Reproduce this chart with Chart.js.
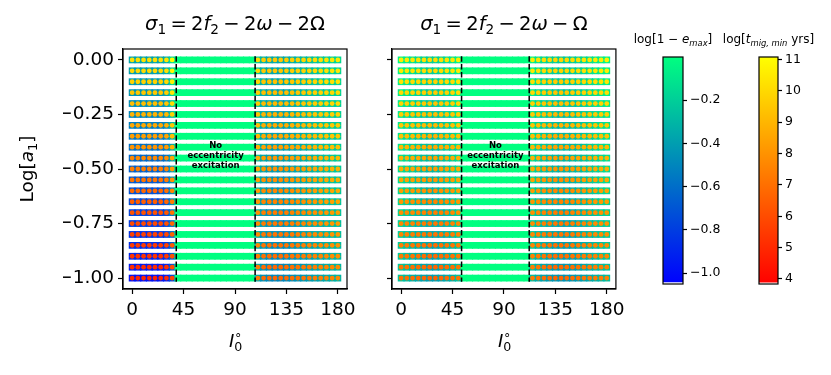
<!DOCTYPE html>
<html><head><meta charset="utf-8">
<script src="https://cdn.jsdelivr.net/npm/chart.js@4.4.0/dist/chart.umd.min.js"></script>
<style>
html,body{margin:0;padding:0;background:#fff;width:831px;height:375px;overflow:hidden;}
.box{position:absolute;top:0;height:375px;}
</style></head><body>
<div class="box" style="left:0;width:370px"><canvas id="c1"></canvas></div>
<div class="box" style="left:370px;width:260px"><canvas id="c2"></canvas></div>
<div class="box" style="left:620px;width:110px"><canvas id="c3"></canvas></div>
<div class="box" style="left:710px;width:121px"><canvas id="c4"></canvas></div>
<script>
// ---------------- DATA ----------------
const ROWS_A = [0.00,-0.05,-0.10,-0.15,-0.20,-0.25,-0.30,-0.35,-0.40,-0.45,-0.50,-0.55,-0.60,-0.65,-0.70,-0.75,-0.80,-0.85,-0.90,-0.95,-1.00];
const INCL = [0,5,10,15,20,25,30,35,40,45,50,55,60,65,70,75,80,85,90,95,100,105,110,115,120,125,130,135,140,145,150,155,160,165,170,175,180];
const X_TICKS = [0,45,90,135,180];
const Y_TICKS = [0,-0.25,-0.5,-0.75,-1.0];
const E_NONE = 0.0;              // log[1-e_max] where no excitation

// Panel 1: sigma1 = 2f2 - 2w - 2Omega
const P1_DASH = [38.6, 107.6];
const P1_LEFT_I = [0,5,10,15,20,25,30,35];
const P1_RIGHT_I = [110,115,120,125,130,135,140,145,150,155,160,165,170,175,180];
const P1_E_LEFT_ROW = [-0.38,-0.40,-0.42,-0.44,-0.47,-0.50,-0.53,-0.56,-0.59,-0.62,-0.65,-0.68,-0.71,-0.74,-0.77,-0.80,-0.83,-0.86,-0.89,-0.93,-0.97];
const P1_E_LEFT_COL = [0,0,0,0,0,0,0.04,0.22];
const P1_T_LEFT_ROW = [10.2,10.0,9.8,9.5,9.2,8.9,8.6,8.3,8.0,7.7,7.4,7.1,6.8,6.5,6.2,5.9,5.7,5.5,5.3,5.1,4.9];
const P1_T_LEFT_COL = [0,0,0,0,0,0,0.2,0.9];
const P1_E_RIGHT_ROW = [-0.28,-0.29,-0.29,-0.30,-0.30,-0.31,-0.31,-0.32,-0.33,-0.33,-0.34,-0.35,-0.35,-0.36,-0.37,-0.38,-0.38,-0.39,-0.40,-0.41,-0.42];
const P1_E_RIGHT_COL = [0.06,-0.04,-0.07,-0.08,-0.08,-0.07,-0.05,-0.03,-0.01,0.01,0.03,0.05,0.07,0.09,0.11];
const P1_T_RIGHT_ROW = [9.8,9.7,9.6,9.4,9.3,9.1,8.9,8.8,8.6,8.4,8.2,8.1,7.9,7.8,7.6,7.5,7.4,7.3,7.2,7.1,7.0];
const P1_T_RIGHT_COL = [0.3,-0.2,-0.3,-0.3,-0.3,-0.2,-0.1,0,0.1,0.2,0.3,0.4,0.5,0.6,0.7];

// Panel 2: sigma1 = 2f2 - 2w - Omega
const P2_DASH = [52.9, 112.1];
const P2_LEFT_I = [0,5,10,15,20,25,30,35,40,45,50];
const P2_RIGHT_I = [115,120,125,130,135,140,145,150,155,160,165,170,175,180];
const P2_E_LEFT_ROW = [-0.12,-0.13,-0.14,-0.15,-0.16,-0.17,-0.18,-0.19,-0.20,-0.21,-0.22,-0.23,-0.24,-0.25,-0.26,-0.27,-0.28,-0.29,-0.30,-0.31,-0.32];
const P2_E_LEFT_COL = [0.08,0.04,0,-0.03,-0.06,-0.08,-0.08,-0.06,-0.03,0,0.06];
const P2_T_LEFT_ROW = [10.3,10.2,10.0,9.8,9.6,9.4,9.2,9.0,8.8,8.6,8.4,8.2,8.0,7.8,7.6,7.4,7.3,7.1,7.0,6.9,6.8];
const P2_T_LEFT_COL = [0.3,0.2,0.1,0,-0.1,-0.2,-0.2,-0.1,0,0.1,0.3];
const P2_E_RIGHT_ROW = [-0.14,-0.15,-0.16,-0.17,-0.18,-0.19,-0.20,-0.21,-0.22,-0.23,-0.24,-0.25,-0.26,-0.27,-0.28,-0.29,-0.30,-0.31,-0.32,-0.34,-0.36];
const P2_E_RIGHT_COL = [0.08,0.02,-0.02,-0.05,-0.07,-0.08,-0.08,-0.07,-0.05,-0.03,0,0.03,0.06,0.09];
const P2_T_RIGHT_ROW = [10.2,10.1,9.9,9.7,9.5,9.3,9.1,8.9,8.7,8.5,8.3,8.1,7.9,7.8,7.6,7.5,7.4,7.3,7.2,7.1,7.0];
const P2_T_RIGHT_COL = [0.3,0.1,-0.1,-0.2,-0.3,-0.3,-0.2,-0.1,0,0.1,0.2,0.3,0.4,0.5];

// colour ranges
const E_RANGE = [-1.05, 0.0];
const T_RANGE = [3.84, 11.08];
const CB1_TICKS = [-0.2,-0.4,-0.6,-0.8,-1.0];
const CB2_TICKS = [4,5,6,7,8,9,10,11];

// ---------------- HELPERS ----------------
const FF = "'DejaVu Sans', sans-serif";
Chart.defaults.font.family = FF;
Chart.defaults.color = '#000';
const clamp = (v)=>Math.max(0,Math.min(1,v));
function winter(v){ const t=clamp((v-E_RANGE[0])/(E_RANGE[1]-E_RANGE[0])); return `rgb(0,${Math.round(255*t)},${Math.round(255*(1-0.5*t))})`; }
function autumn(v){ const t=clamp((v-T_RANGE[0])/(T_RANGE[1]-T_RANGE[0])); return `rgb(255,${Math.round(255*t)},0)`; }
const minus = s => s.replace('-', '\u2212');

function richDraw(ctx, parts, x, y, size, align, rot){
  const meas = parts.map(p=>{
    const s = (p.sub||p.sup)? size*0.7 : size;
    ctx.font = `${p.i?'italic ':''}${p.b?'bold ':''}${s}px ${FF}`;
    const w = ctx.measureText(p.t).width;
    return {s, w, g:(p.g||0)*size};
  });
  let total = 0; meas.forEach((m,k)=>{ if(!parts[k].stack) total += m.w + 2*m.g; });
  ctx.save();
  ctx.translate(x,y); if(rot) ctx.rotate(rot);
  let cx = align==='center' ? -total/2 : 0;
  let lastX = cx;
  parts.forEach((p,k)=>{
    const m = meas[k];
    ctx.font = `${p.i?'italic ':''}${p.b?'bold ':''}${m.s}px ${FF}`;
    ctx.fillStyle='#000'; ctx.textBaseline='alphabetic'; ctx.textAlign='left';
    const dy = p.sub? size*0.22 : (p.sup? -size*0.42 : 0);
    if(p.stack){ ctx.fillText(p.t, lastX, dy); return; }
    cx += m.g; lastX = cx;
    ctx.fillText(p.t, cx, dy);
    cx += m.w + m.g;
  });
  ctx.restore();
}

function buildPanel(leftI, rightI, eL, eLc, tL, tLc, eR, eRc, tR, tRc){
  const sq=[], sqC=[], dot=[], dotC=[];
  ROWS_A.forEach((a,r)=>{
    INCL.forEach(inc=>{
      let e = E_NONE;
      const li = leftI.indexOf(inc), ri = rightI.indexOf(inc);
      if(li>=0){ e = eL[r]+eLc[li]; dot.push({x:inc,y:a}); dotC.push(autumn(tL[r]+tLc[li])); }
      else if(ri>=0){ e = eR[r]+eRc[ri]; dot.push({x:inc,y:a}); dotC.push(autumn(tR[r]+tRc[ri])); }
      sq.push({x:inc,y:a}); sqC.push(winter(e));
    });
  });
  return {sq,sqC,dot,dotC};
}

function panelChart(id, D, dash, titleParts, showY, pad){
  const deco = {
    id:'deco'+id,
    afterDatasetsDraw(chart){
      const {ctx, chartArea:ca, scales:{x,y}} = chart;
      ctx.save();
      ctx.strokeStyle='#000'; ctx.lineWidth=1.5; ctx.setLineDash([5.5,2.4]);
      dash.forEach(d=>{
        const px = x.getPixelForValue(d);
        ctx.beginPath(); ctx.moveTo(px, y.getPixelForValue(0.017)); ctx.lineTo(px, y.getPixelForValue(-1.017)); ctx.stroke();
      });
      ctx.setLineDash([]);
      const mx = x.getPixelForValue((dash[0]+dash[1])/2), my = y.getPixelForValue(-0.44);
      ctx.font = `bold 8.5px ${FF}`; ctx.fillStyle='#000'; ctx.textAlign='center'; ctx.textBaseline='middle';
      ['No','eccentricity','excitation'].forEach((s,k)=>ctx.fillText(s, mx, my+(k-1)*10));
      ctx.lineWidth=1.2; ctx.strokeStyle='#000';
      ctx.strokeRect(ca.left, ca.top, ca.right-ca.left, ca.bottom-ca.top);
      ctx.restore();
      richDraw(ctx, titleParts, (ca.left+ca.right)/2, 30, 19.5, 'center');
      const xc = (ca.left+ca.right)/2 - 6, yb = ca.bottom + 58;
      richDraw(ctx, [{t:'I',i:1},{t:'\u2218',sup:1},{t:'0',sub:1,stack:1}], xc, yb, 18, 'left');
      if(showY){
        richDraw(ctx, [{t:'Log[',},{t:'a',i:1},{t:'1',sub:1},{t:']'}], 33, (ca.top+ca.bottom)/2, 18.5, 'center', -Math.PI/2);
      }
    }
  };
  return new Chart(document.getElementById(id), {
    type:'scatter',
    data:{datasets:[
      {data:D.dot, pointBackgroundColor:D.dotC, pointBorderWidth:0, pointRadius:2.4, pointStyle:'circle'},
      {data:D.sq, pointBackgroundColor:D.sqC, pointBorderWidth:0, pointRadius:4.8, pointStyle:'rect'}
    ]},
    options:{
      responsive:true, maintainAspectRatio:false, animation:false, events:[],
      layout:{padding:pad},
      plugins:{legend:{display:false}, tooltip:{enabled:false}},
      scales:{
        x:{type:'linear', min:-8, max:188,
           afterBuildTicks:s=>{s.ticks = X_TICKS.map(v=>({value:v}));},
           afterFit:s=>{s.height=30;},
           ticks:{font:{size:18.5}, color:'#000', padding:5, callback:v=>String(v), maxRotation:0, autoSkip:false},
           grid:{drawOnChartArea:false, tickLength:5, tickColor:'#000', tickWidth:1.2},
           border:{display:true, color:'#000', width:1.2}},
        y:{type:'linear', min:-1.05, max:0.05,
           afterBuildTicks:s=>{s.ticks = Y_TICKS.map(v=>({value:v}));},
           afterFit:s=>{s.width = showY?60:10;},
           ticks:{display:showY, font:{size:18.5}, color:'#000', padding:4, callback:v=>minus(v.toFixed(2)), autoSkip:false},
           grid:{drawOnChartArea:false, tickLength:5, tickColor:'#000', tickWidth:1.2},
           border:{display:true, color:'#000', width:1.2}}
      }
    },
    plugins:[deco]
  });
}

const D1 = buildPanel(P1_LEFT_I, P1_RIGHT_I, P1_E_LEFT_ROW, P1_E_LEFT_COL, P1_T_LEFT_ROW, P1_T_LEFT_COL, P1_E_RIGHT_ROW, P1_E_RIGHT_COL, P1_T_RIGHT_ROW, P1_T_RIGHT_COL);
const D2 = buildPanel(P2_LEFT_I, P2_RIGHT_I, P2_E_LEFT_ROW, P2_E_LEFT_COL, P2_T_LEFT_ROW, P2_T_LEFT_COL, P2_E_RIGHT_ROW, P2_E_RIGHT_COL, P2_T_RIGHT_ROW, P2_T_RIGHT_COL);

const T1 = [{t:'\u03c3',i:1},{t:'1',sub:1},{t:'=',g:0.22},{t:'2'},{t:'f',i:1},{t:'2',sub:1},{t:'\u2212',g:0.22},{t:'2'},{t:'\u03c9',i:1},{t:'\u2212',g:0.22},{t:'2\u03a9'}];
const T2 = [{t:'\u03c3',i:1},{t:'1',sub:1},{t:'=',g:0.22},{t:'2'},{t:'f',i:1},{t:'2',sub:1},{t:'\u2212',g:0.22},{t:'2'},{t:'\u03c9',i:1},{t:'\u2212',g:0.22},{t:'\u03a9'}];

panelChart('c1', D1, P1_DASH, T1, true, {left:63, right:23, top:49, bottom:56});
panelChart('c2', D2, P2_DASH, T2, false, {left:12, right:14, top:49, bottom:56});

function colorbar(id, range, barFrom, ticks, fmt, c0, c1, titleParts, padL, padR){
  const deco = {
    id:'cb'+id,
    afterDatasetsDraw(chart){
      const {ctx, chartArea:ca} = chart;
      ctx.save(); ctx.lineWidth=1.2; ctx.strokeStyle='#000';
      ctx.strokeRect(ca.left, ca.top, ca.right-ca.left, ca.bottom-ca.top);
      ctx.restore();
      richDraw(ctx, titleParts, (ca.left+ca.right)/2, 43, 12, 'center');
    }
  };
  return new Chart(document.getElementById(id), {
    type:'bar',
    data:{labels:['c'], datasets:[{data:[[barFrom, range[1]]], borderWidth:0, borderSkipped:false,
      barPercentage:1, categoryPercentage:1,
      backgroundColor:(ctx)=>{
        const ch = ctx.chart, ca = ch.chartArea; if(!ca) return '#888';
        const ys = ch.scales.y;
        const g = ch.ctx.createLinearGradient(0, ys.getPixelForValue(range[0]), 0, ys.getPixelForValue(range[1]));
        g.addColorStop(0, c0); g.addColorStop(1, c1); return g;
      }}]},
    options:{
      responsive:true, maintainAspectRatio:false, animation:false, events:[],
      layout:{padding:{left:padL, right:padR, top:57, bottom:91}},
      plugins:{legend:{display:false}, tooltip:{enabled:false}},
      scales:{
        x:{display:false},
        y:{position:'right', min:range[0], max:range[1],
           afterBuildTicks:s=>{s.ticks = ticks.map(v=>({value:v}));},
           afterFit:s=>{s.width=40;},
           ticks:{font:{size:12.5}, color:'#000', padding:3, callback:fmt, autoSkip:false},
           grid:{drawOnChartArea:false, tickLength:4, tickColor:'#000', tickWidth:1.2},
           border:{display:false}}
      }
    },
    plugins:[deco]
  });
}
// c3 container: 620..730 ; bar 663..683
colorbar('c3', E_RANGE, -1.04, CB1_TICKS, v=>minus(v.toFixed(1)), 'rgb(0,0,255)', 'rgb(0,255,128)',
  [{t:'log[1 \u2212 '},{t:'e',i:1},{t:'max',i:1,sub:1},{t:']'}], 43, 7);
// c4 container: 710..831 ; bar 759..778
colorbar('c4', T_RANGE, 3.9, CB2_TICKS, v=>String(v), 'rgb(255,0,0)', 'rgb(255,255,0)',
  [{t:'log['},{t:'t',i:1},{t:'mig, min',i:1,sub:1},{t:' yrs]'}], 49, 13);
</script>
</body></html>
